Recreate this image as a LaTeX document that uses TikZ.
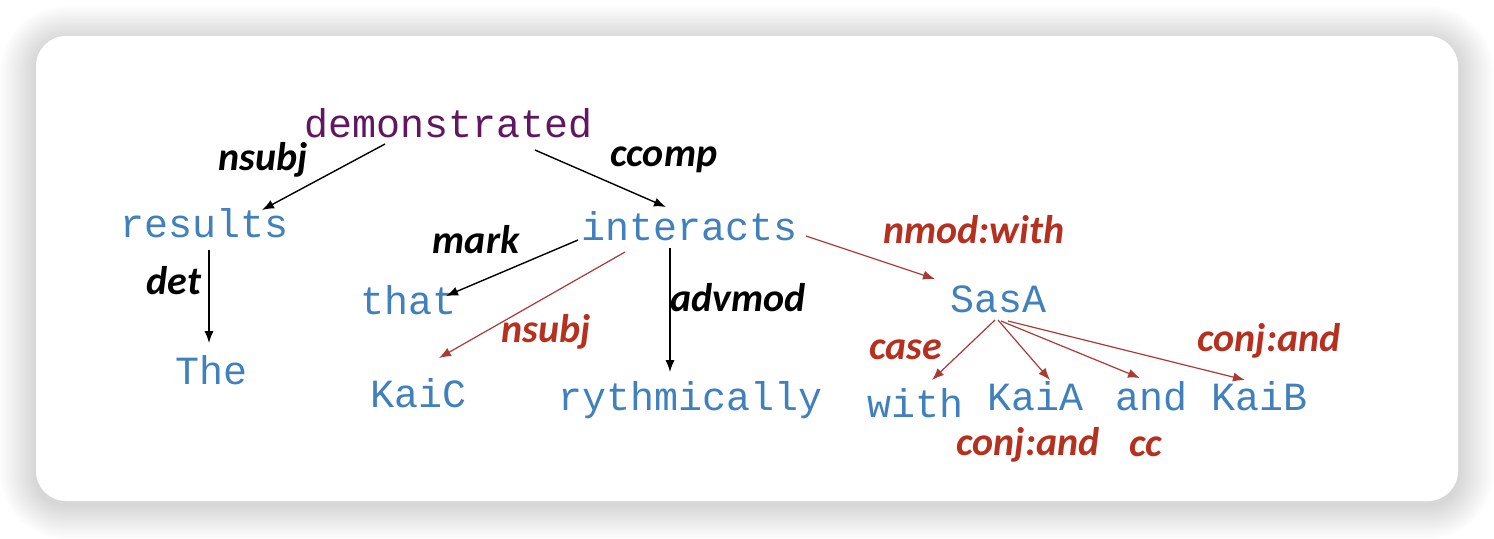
\documentclass[tikz,border=0pt]{standalone}
\usepackage{fontspec}
\newfontfamily\wordfont{Liberation Mono}
\newfontfamily\labfont{Carlito}
\usetikzlibrary{arrows.meta,calc}
\definecolor{wblue}{RGB}{64,128,188}
\definecolor{wpurple}{RGB}{96,22,96}
\definecolor{lred}{RGB}{182,48,32}
\definecolor{ared}{RGB}{172,58,52}
\tikzset{
  word/.style={anchor=base,inner sep=0pt,text=wblue,font=\wordfont\fontsize{20pt}{24pt}\selectfont},
  lab/.style={inner sep=0pt,font=\labfont\bfseries\itshape\fontsize{20pt}{24pt}\selectfont},
  blab/.style={lab,text=black},
  rlab/.style={lab,text=lred},
  barrow/.style={draw=black,line width=0.7pt,-{Latex[length=6pt,width=4.6pt]}},
  rarrow/.style={draw=ared,line width=0.6pt,-{Latex[length=6pt,width=4.6pt]}},
}
\begin{document}
\begin{tikzpicture}[x=0.5pt,y=-0.5pt]
\useasboundingbox (0,0) rectangle (1494,538);
\fill[white] (0,0) rectangle (1494,538);
% shadow
\foreach \i in {1,...,20}{
  \fill[black,opacity=0.0085,rounded corners={15pt+0.9pt*\i}]
    ({36-1.8*\i},{36-1.7*\i+4}) rectangle ({1458+1.8*\i},{501+1.7*\i+4});
}
\fill[white,rounded corners=15pt] (36,36) rectangle (1458,501);

% words
\node[word,text=wpurple] (dem) at (449,137) {demonstrated};
\node[word] (res) at (205,237) {results};
\node[word] (int) at (690,240) {interacts};
\node[word] (that) at (409,314) {that};
\node[word] (sasa) at (998,312) {SasA};
\node[word] (the) at (212,384) {The};
\node[word] (kaic) at (419,407) {KaiC};
\node[word] (ryth) at (691,410) {rythmically};
\node[word] (with) at (915,417) {with};
\node[word] (kaia) at (1035,410) {KaiA};
\node[word] (and) at (1151,410) {and};
\node[word] (kaib) at (1259,410) {KaiB};

% labels
\node[blab] (l1) at (263,160) {nsubj};
\node[blab] (l2) at (664,160) {ccomp};
\node[blab] (l3) at (476,240) {mark};
\node[blab] (l4) at (174,281) {det};
\node[rlab] (l5) at (546,332) {nsubj};
\node[blab] (l6) at (738,298) {advmod};
\node[rlab] (l7) at (974,230) {nmod:with};
\node[rlab] (l8) at (906,350) {case};
\node[rlab] (l9) at (1269,341) {conj:and};
\node[rlab] (l10) at (1028,445) {conj:and};
\node[rlab] (l11) at (1146,447) {cc};

% arrows
\draw[barrow] ($(dem.base)+(-64,7)$) -- ($(res.base)+(57,-27)$);
\draw[barrow] ($(dem.base)+(86,13)$) -- ($(int.base)+(-24,-33)$);
\draw[barrow] ($(res.base)+(4,13)$) -- ($(the.base)+(-3,-41)$);
\draw[barrow] ($(int.base)+(-112,0)$) -- ($(that.base)+(37,-18)$);
\draw[rarrow] ($(int.base)+(-65,12)$) -- ($(kaic.base)+(20,-49)$);
\draw[barrow] ($(int.base)+(-20,8)$) -- ($(ryth.base)+(-21,-38)$);
\draw[rarrow] ($(int.base)+(116,-4)$) -- ($(sasa.base)+(-63,-33)$);
\draw[rarrow] ($(sasa.base)+(-3,8)$) -- ($(with.base)+(17,-37)$);
\draw[rarrow] ($(sasa.base)+(0,8)$) -- ($(kaia.base)+(15,-30)$);
\draw[rarrow] ($(sasa.base)+(3,9)$) -- ($(and.base)+(-11,-32)$);
\draw[rarrow] ($(sasa.base)+(10,9)$) -- ($(kaib.base)+(-14,-30)$);
\end{tikzpicture}
\end{document}
